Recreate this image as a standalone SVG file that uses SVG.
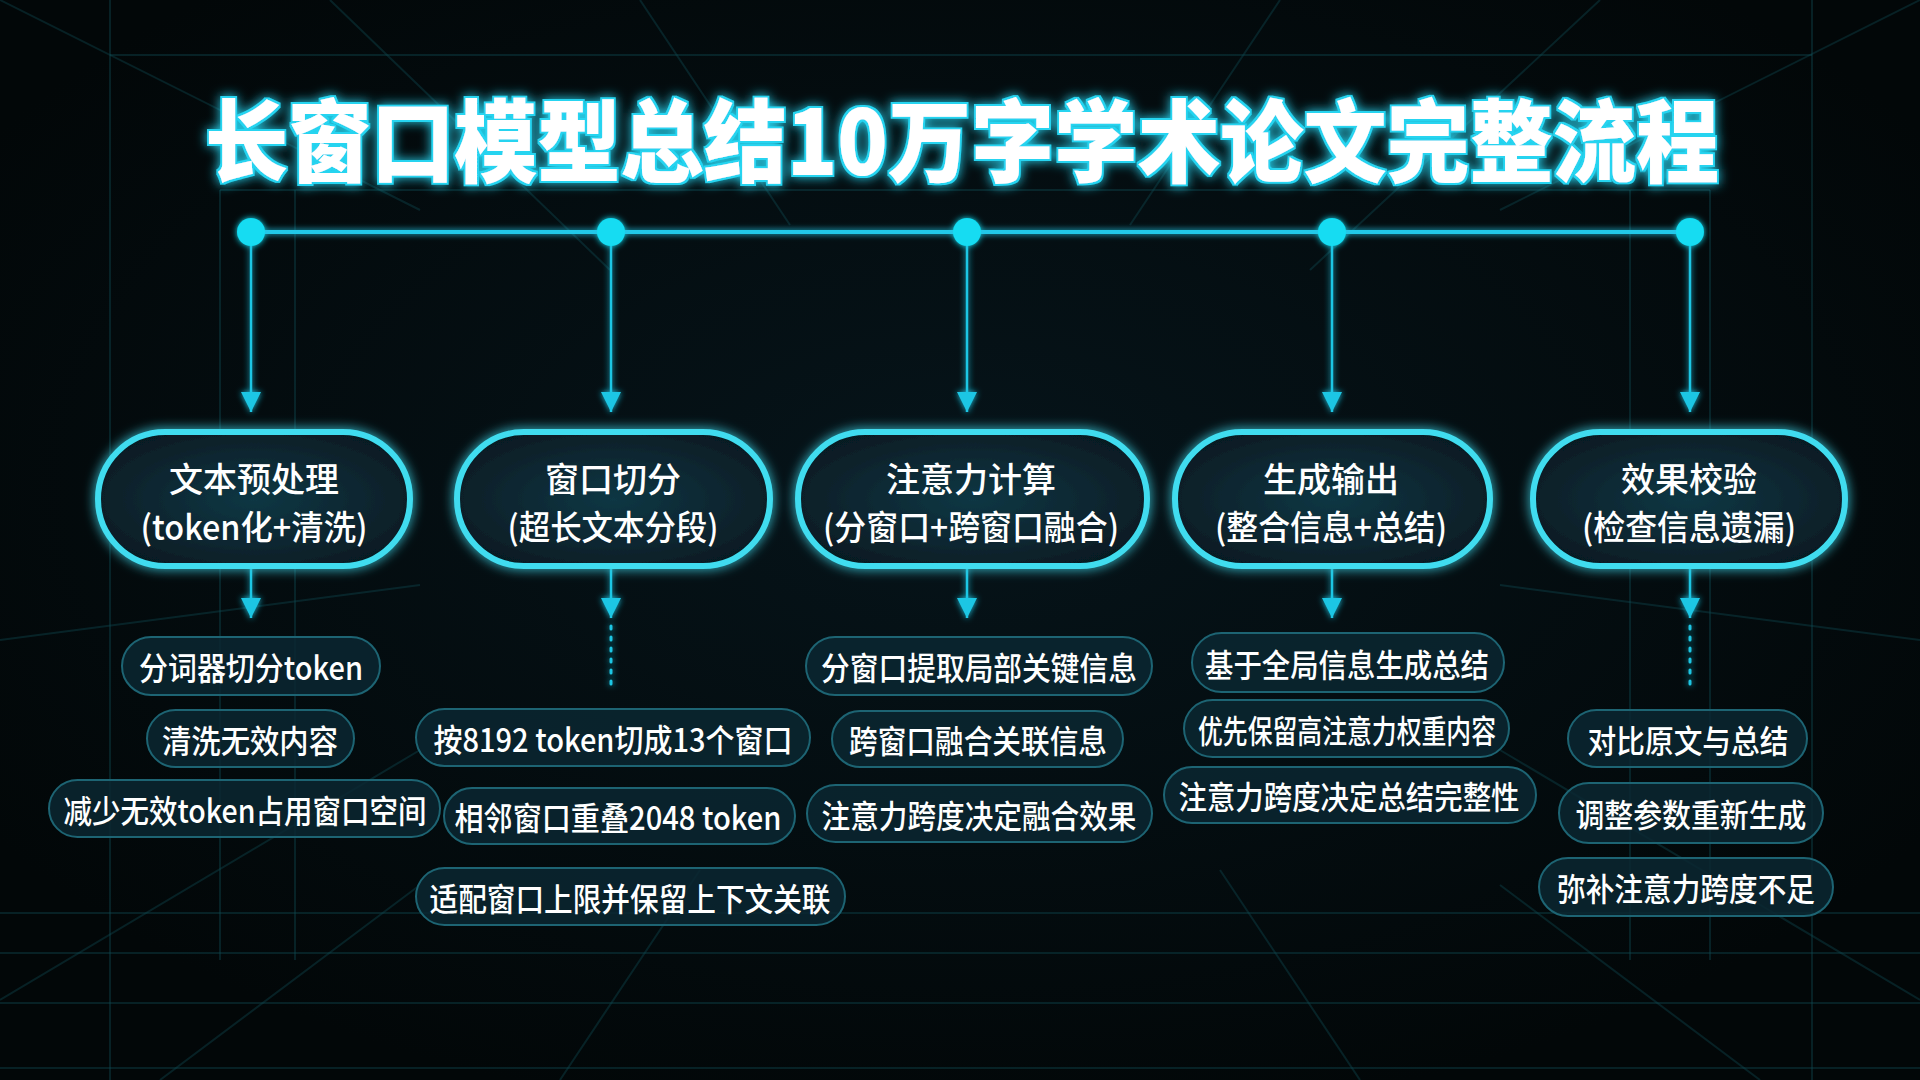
<svg xmlns="http://www.w3.org/2000/svg" width="1920" height="1080" viewBox="0 0 1920 1080">
<defs>
<style>
.grid line{stroke:#0f4a52;stroke-width:2;opacity:.4}
.conn line{stroke:#1fc6e4;stroke-width:2.5}
.dotline{stroke:#1fc6e4;stroke-width:3;stroke-dasharray:3 8;stroke-linecap:round}
.node rect.main{fill:url(#nodeFill);stroke:#3fdcef;stroke-width:6}
.node .t{font-family:"Noto Sans CJK SC","Noto Sans",sans-serif;font-size:34px;font-weight:500;fill:#ffffff;text-anchor:middle;dominant-baseline:central}
.sub rect{fill:#0a2731;fill-opacity:.85;stroke:#1d6473;stroke-width:2}
.sub text{font-family:"Noto Sans CJK SC","Noto Sans",sans-serif;font-size:32px;font-weight:500;fill:#ffffff;text-anchor:middle;dominant-baseline:central}
.title{font-family:"Noto Sans CJK SC","Noto Sans",sans-serif;font-size:90px;font-weight:900;fill:#ffffff;text-anchor:middle}
</style>
<radialGradient id="nodeFill" cx="50%" cy="50%" r="60%">
<stop offset="0" stop-color="#0f3744"/>
<stop offset="1" stop-color="#061a22"/>
</radialGradient>
<radialGradient id="bgGlow" cx="50%" cy="45%" r="60%">
<stop offset="0" stop-color="#06141a"/>
<stop offset="1" stop-color="#020708"/>
</radialGradient>
<filter id="glow" x="-20%" y="-30%" width="140%" height="160%">
<feGaussianBlur in="SourceGraphic" stdDeviation="6" result="b"/>
<feMerge><feMergeNode in="b"/><feMergeNode in="SourceGraphic"/></feMerge>
</filter>
<filter id="softglow" x="-20%" y="-50%" width="140%" height="200%">
<feGaussianBlur in="SourceGraphic" stdDeviation="3" result="b"/>
<feMerge><feMergeNode in="b"/><feMergeNode in="SourceGraphic"/></feMerge>
</filter>
<filter id="titleGlow" x="-10%" y="-40%" width="120%" height="180%">
<feMorphology in="SourceAlpha" operator="dilate" radius="2" result="d"/>
<feFlood flood-color="#25d4f0" result="c"/>
<feComposite in="c" in2="d" operator="in" result="cd"/>
<feGaussianBlur in="cd" stdDeviation="6" result="b"/>
<feMerge><feMergeNode in="b"/><feMergeNode in="cd"/><feMergeNode in="SourceGraphic"/></feMerge>
</filter>
<marker id="arrow" viewBox="0 0 20 20" refX="20" refY="10" markerWidth="20" markerHeight="20" markerUnits="userSpaceOnUse" orient="auto">
<path d="M0,0 L20,10 L0,20 Z" fill="#1fc6e4"/>
</marker>
</defs>

<rect width="1920" height="1080" fill="url(#bgGlow)"/>
<g class="grid">
<line x1="110" y1="55" x2="1812" y2="55"/>
<line x1="110" y1="0" x2="110" y2="1080"/>
<line x1="1812" y1="0" x2="1812" y2="1080"/>
<line x1="220" y1="190" x2="220" y2="960"/>
<line x1="295" y1="190" x2="295" y2="960"/>
<line x1="1630" y1="190" x2="1630" y2="960"/>
<line x1="1710" y1="190" x2="1710" y2="960"/>
<line x1="220" y1="190" x2="1710" y2="190"/>
<line x1="0" y1="0" x2="420" y2="210"/>
<line x1="330" y1="0" x2="610" y2="270"/>
<line x1="640" y1="0" x2="790" y2="225"/>
<line x1="1280" y1="0" x2="1130" y2="225"/>
<line x1="1600" y1="0" x2="1310" y2="270"/>
<line x1="1920" y1="0" x2="1500" y2="210"/>
<line x1="0" y1="640" x2="420" y2="585"/>
<line x1="1920" y1="640" x2="1500" y2="585"/>
<line x1="0" y1="1000" x2="420" y2="750"/>
<line x1="1920" y1="1000" x2="1500" y2="750"/>
<line x1="160" y1="1080" x2="420" y2="885"/>
<line x1="560" y1="1080" x2="700" y2="870"/>
<line x1="1360" y1="1080" x2="1220" y2="870"/>
<line x1="1760" y1="1080" x2="1500" y2="885"/>
<line x1="0" y1="913" x2="1920" y2="913"/>
<line x1="0" y1="953" x2="1920" y2="953"/>
<line x1="0" y1="1003" x2="1920" y2="1003"/>
<line x1="0" y1="1068" x2="1920" y2="1068"/>
</g>

<g id="title">
<text class="title" x="962" y="175" textLength="1514" lengthAdjust="spacingAndGlyphs" filter="url(#titleGlow)">长窗口模型总结10万字学术论文完整流程</text>
</g>

<g id="connectors" filter="url(#softglow)">
<line x1="251" y1="232" x2="1690" y2="232" style="stroke:#22c8e8;stroke-width:4"/>
<g class="conn">
<line x1="251" y1="232" x2="251" y2="412" marker-end="url(#arrow)"/>
<line x1="611" y1="232" x2="611" y2="412" marker-end="url(#arrow)"/>
<line x1="967" y1="232" x2="967" y2="412" marker-end="url(#arrow)"/>
<line x1="1332" y1="232" x2="1332" y2="412" marker-end="url(#arrow)"/>
<line x1="1690" y1="232" x2="1690" y2="412" marker-end="url(#arrow)"/>
<line x1="251" y1="566" x2="251" y2="618" marker-end="url(#arrow)"/>
<line x1="611" y1="566" x2="611" y2="618" marker-end="url(#arrow)"/>
<line x1="967" y1="566" x2="967" y2="618" marker-end="url(#arrow)"/>
<line x1="1332" y1="566" x2="1332" y2="618" marker-end="url(#arrow)"/>
<line x1="1690" y1="566" x2="1690" y2="618" marker-end="url(#arrow)"/>
</g>
<line class="dotline" x1="611" y1="626" x2="611" y2="692"/>
<line class="dotline" x1="1690" y1="626" x2="1690" y2="692"/>
<g fill="#12dcf2">
<circle cx="251" cy="232" r="14"/>
<circle cx="611" cy="232" r="14"/>
<circle cx="967" cy="232" r="14"/>
<circle cx="1332" cy="232" r="14"/>
<circle cx="1690" cy="232" r="14"/>
</g>
</g>

<g id="node1" class="node">
<rect class="main" x="98" y="432" width="312" height="134" rx="67" filter="url(#glow)"/>
<text class="t" x="254" y="477">文本预处理</text>
<text class="t" x="254" y="525" textLength="227" lengthAdjust="spacingAndGlyphs">(token化+清洗)</text>
</g>
<g id="node2" class="node">
<rect class="main" x="457" y="432" width="313" height="134" rx="67" filter="url(#glow)"/>
<text class="t" x="613" y="477">窗口切分</text>
<text class="t" x="613" y="525" textLength="211" lengthAdjust="spacingAndGlyphs">(超长文本分段)</text>
</g>
<g id="node3" class="node">
<rect class="main" x="798" y="432" width="349" height="134" rx="67" filter="url(#glow)"/>
<text class="t" x="971" y="477">注意力计算</text>
<text class="t" x="971" y="525" textLength="296" lengthAdjust="spacingAndGlyphs">(分窗口+跨窗口融合)</text>
</g>
<g id="node4" class="node">
<rect class="main" x="1175" y="432" width="315" height="134" rx="67" filter="url(#glow)"/>
<text class="t" x="1331" y="477">生成输出</text>
<text class="t" x="1331" y="525" textLength="232" lengthAdjust="spacingAndGlyphs">(整合信息+总结)</text>
</g>
<g id="node5" class="node">
<rect class="main" x="1533" y="432" width="312" height="134" rx="67" filter="url(#glow)"/>
<text class="t" x="1689" y="477">效果校验</text>
<text class="t" x="1689" y="525" textLength="214" lengthAdjust="spacingAndGlyphs">(检查信息遗漏)</text>
</g>

<g id="sub1" class="sub">
<rect x="122" y="637" width="258" height="58" rx="29"/>
<text x="251" y="666" textLength="224" lengthAdjust="spacingAndGlyphs">分词器切分token</text>
<rect x="147" y="710" width="207" height="57" rx="28.5"/>
<text x="250" y="738.5" textLength="176" lengthAdjust="spacingAndGlyphs">清洗无效内容</text>
<rect x="49" y="780" width="391" height="57" rx="28.5"/>
<text x="245" y="808.5" textLength="363" lengthAdjust="spacingAndGlyphs">减少无效token占用窗口空间</text>
</g>
<g id="sub2" class="sub">
<rect x="416" y="709" width="394" height="57" rx="28.5"/>
<text x="613" y="737.5" textLength="359" lengthAdjust="spacingAndGlyphs">按8192 token切成13个窗口</text>
<rect x="444" y="788" width="351" height="56" rx="28"/>
<text x="618" y="816" textLength="327" lengthAdjust="spacingAndGlyphs">相邻窗口重叠2048 token</text>
<rect x="416" y="868" width="429" height="57" rx="28.5"/>
<text x="630" y="896.5" textLength="401" lengthAdjust="spacingAndGlyphs">适配窗口上限并保留上下文关联</text>
</g>
<g id="sub3" class="sub">
<rect x="806" y="637" width="346" height="58" rx="29"/>
<text x="979" y="666" textLength="316" lengthAdjust="spacingAndGlyphs">分窗口提取局部关键信息</text>
<rect x="832" y="711" width="291" height="56" rx="28"/>
<text x="978" y="739" textLength="258" lengthAdjust="spacingAndGlyphs">跨窗口融合关联信息</text>
<rect x="807" y="785" width="345" height="57" rx="28.5"/>
<text x="979" y="813.5" textLength="315" lengthAdjust="spacingAndGlyphs">注意力跨度决定融合效果</text>
</g>
<g id="sub4" class="sub">
<rect x="1192" y="633" width="312" height="59" rx="29.5"/>
<text x="1347" y="662.5" textLength="284" lengthAdjust="spacingAndGlyphs">基于全局信息生成总结</text>
<rect x="1184" y="700" width="325" height="57" rx="28.5"/>
<text x="1347" y="728.5" textLength="298" lengthAdjust="spacingAndGlyphs">优先保留高注意力权重内容</text>
<rect x="1164" y="767" width="372" height="56" rx="28"/>
<text x="1349" y="795" textLength="341" lengthAdjust="spacingAndGlyphs">注意力跨度决定总结完整性</text>
</g>
<g id="sub5" class="sub">
<rect x="1568" y="710" width="239" height="57" rx="28.5"/>
<text x="1688" y="738.5" textLength="201" lengthAdjust="spacingAndGlyphs">对比原文与总结</text>
<rect x="1559" y="783" width="264" height="60" rx="30"/>
<text x="1691" y="813" textLength="231" lengthAdjust="spacingAndGlyphs">调整参数重新生成</text>
<rect x="1539" y="858" width="294" height="58" rx="29"/>
<text x="1686" y="887" textLength="258" lengthAdjust="spacingAndGlyphs">弥补注意力跨度不足</text>
</g>
</svg>
